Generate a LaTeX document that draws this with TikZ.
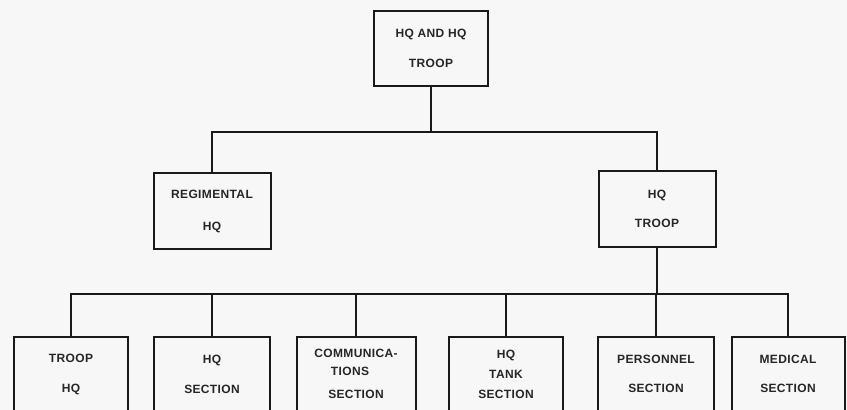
\documentclass[tikz,border=0pt]{standalone}
\usepackage{fontspec}
\setmainfont{Liberation Sans}[LetterSpace=3]
\usetikzlibrary{calc}
\begin{document}
\begin{tikzpicture}[x=1pt,y=-1pt,
  orgbox/.style={draw=black!90, line width=2pt, rectangle, inner sep=0pt, align=center,
    font=\fontsize{12}{14}\selectfont\bfseries, text=black!85},
  link/.style={draw=black!90, line width=2pt}]
\useasboundingbox (0,0) rectangle (847,410);
\clip (0,0) rectangle (847,410);
\fill[black!3] (0,0) rectangle (847,410);
% top level
\node[orgbox, minimum width=114pt, minimum height=75pt] (top) at (431,48.5) {HQ AND HQ\\[16pt]TROOP};
% second level
\node[orgbox, minimum width=117pt, minimum height=76pt] (reg) at (212,211) {REGIMENTAL\\[18pt]HQ};
\node[orgbox, minimum width=117pt, minimum height=76pt] (hqt) at (657,209) {HQ\\[15pt]TROOP};
% third level
\node[orgbox, minimum width=114pt, minimum height=74.5pt] (thq) at (71,374.25) {TROOP\\[16pt]HQ};
\node[orgbox, minimum width=116pt, minimum height=74.5pt] (hqs) at (212,374.25) {HQ\\[16pt]SECTION};
\node[orgbox, minimum width=119pt, minimum height=74.5pt] (com) at (356,374.25) {COMMUNICA-\\[4pt]\hspace*{-12pt}TIONS\\[9pt]SECTION};
\node[orgbox, minimum width=114pt, minimum height=74.5pt] (tank) at (506,374.25) {HQ\\[6.5pt]TANK\\[6pt]SECTION};
\node[orgbox, minimum width=116pt, minimum height=74.5pt] (pers) at (656,374.25) {PERSONNEL\\[15pt]SECTION};
\node[orgbox, minimum width=113pt, minimum height=74.5pt] (med) at (788,374.25) {MEDICAL\\[15pt]SECTION};
% junction bars
\coordinate (bar1) at (431,132);
\coordinate (bar2) at (431,294);
% connectors
\draw[link] (top.south) -- (top.south |- bar1);
\draw[link] (reg.north) |- (bar1) -| (hqt.north);
\draw[link] (hqt.south) -- (hqt.south |- bar2);
\draw[link] (thq.north) |- (bar2) -| (med.north);
\draw[link] (hqs.north) -- (hqs.north |- bar2);
\draw[link] (com.north) -- (com.north |- bar2);
\draw[link] (tank.north) -- (tank.north |- bar2);
\draw[link] (pers.north) -- (pers.north |- bar2);
\end{tikzpicture}
\end{document}
